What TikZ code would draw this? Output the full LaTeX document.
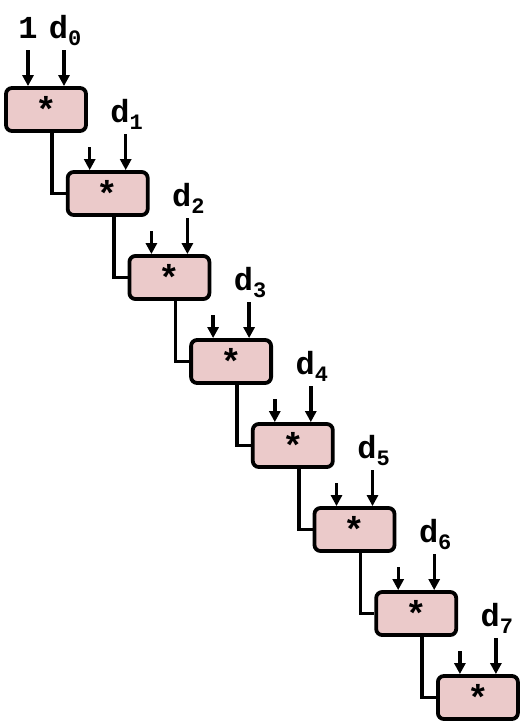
\documentclass[tikz,border=0pt]{standalone}
\usepackage{fontspec}
\setmonofont{Liberation Mono}
\definecolor{mulfill}{RGB}{235,202,202}
\usetikzlibrary{arrows.meta,positioning,calc}

\newcommand{\dsub}[1]{d\raisebox{-7pt}{\fontsize{22}{22}\selectfont #1}}

\begin{document}
\begin{tikzpicture}[x=1pt,y=-1pt,
    mulbox/.style={draw,line width=3.8pt,fill=mulfill,rounded corners=6pt,
      minimum width=80pt,minimum height=43pt,inner sep=0pt,
      font=\ttfamily\bfseries\fontsize{36}{36}\selectfont},
    feed/.style={line width=3.4pt,-{Triangle[length=11pt,width=11pt]}},
    chain/.style={line width=3.6pt},
    lbl/.style={font=\ttfamily\bfseries\fontsize{32}{32}\selectfont,inner sep=0pt,anchor=base}]
  \useasboundingbox (0,0) rectangle (524,728);
  % the multiplier boxes
  \foreach \i in {0,...,7} {
    \node[mulbox] (mul\i) at (46+61.7*\i,109.5+84*\i) {*};
    \coordinate (inR\i) at ($(mul\i.north)+(18,-36)$);
  }
  % the inputs
  \coordinate (inL0) at ($(mul0.north)+(-18,-36)$);
  \foreach \i in {1,...,7}
    \coordinate (inL\i) at ($(mul\i.north)+(-18,-23)$);
  \foreach \i in {0,...,7} {
    \draw[feed] (inL\i) -- (inL\i |- mul\i.north);
    \draw[feed] (inR\i) -- (inR\i |- mul\i.north);
    \node[lbl] (dat\i) at ($(inR\i)+(1,-12)$) {\dsub{\i}};
  }
  \node[lbl] (one) at ($(inL0)+(0,-12)$) {1};
  % the chain from box to box
  \foreach \i [evaluate=\i as \n using int(\i+1)] in {0,...,6}
    \draw[chain] ($(mul\i.south)+(6,0)$) |- (mul\n.west);
\end{tikzpicture}
\end{document}
